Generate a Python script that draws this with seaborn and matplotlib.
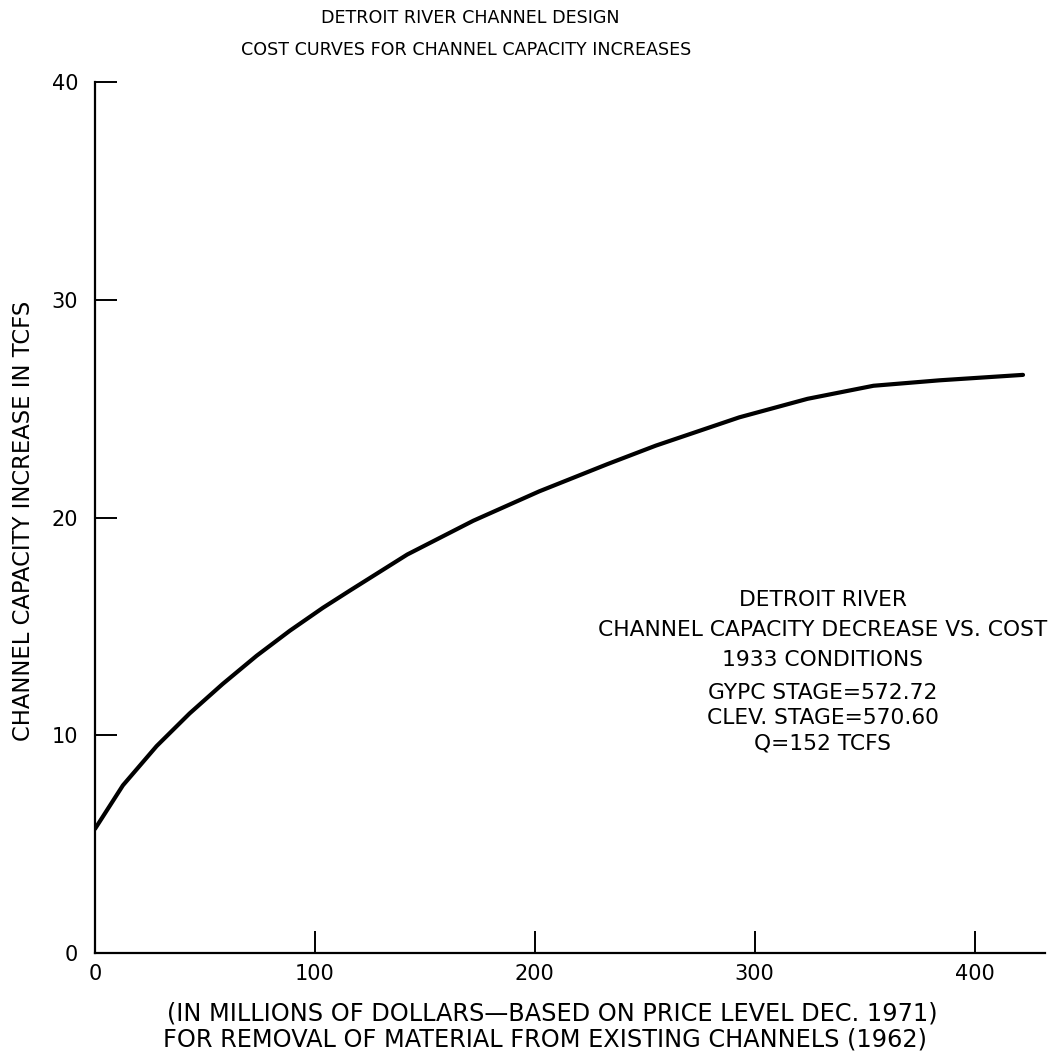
import matplotlib
matplotlib.use("Agg")
import matplotlib.pyplot as plt
import seaborn as sns
import pandas as pd

# Cost (millions of dollars) vs. channel capacity increase (TCFS)
cost = [0, 12.7, 28, 43, 58, 73.5, 88.6, 103.6, 116, 142, 172, 202,
        233, 255, 293, 324, 354, 384, 422]
capacity = [5.7, 7.7, 9.5, 11.0, 12.35, 13.65, 14.8, 15.85, 16.65, 18.3, 19.85, 21.2,
            22.45, 23.3, 24.6, 25.45, 26.05, 26.3, 26.55]

x_ticks = [0, 100, 200, 300, 400]
y_ticks = [0, 10, 20, 30, 40]

title_lines = ["DETROIT RIVER CHANNEL DESIGN",
               "COST CURVES FOR CHANNEL CAPACITY INCREASES"]
xlabel_lines = ["(IN MILLIONS OF DOLLARS\u2014BASED ON PRICE LEVEL DEC. 1971)",
                "FOR REMOVAL OF MATERIAL FROM EXISTING CHANNELS (1962)"]
ylabel = "CHANNEL CAPACITY INCREASE IN TCFS"
note_head = ["DETROIT RIVER", "CHANNEL CAPACITY DECREASE VS. COST", "1933 CONDITIONS"]
note_body = ["GYPC STAGE=572.72", "CLEV. STAGE=570.60", "Q=152 TCFS"]

df = pd.DataFrame({"cost": cost, "capacity": capacity})

sns.set_theme(style="white")
plt.rcParams["font.family"] = ["DejaVu Sans"]
plt.rcParams["text.color"] = "black"

W, H = 1056, 1054
fig = plt.figure(figsize=(W / 100, H / 100), dpi=100)
ax = fig.add_axes([95 / W, 1 - 953 / H, (1045 - 95) / W, (953 - 82) / H])

sns.lineplot(data=df, x="cost", y="capacity", ax=ax, color="black",
             linewidth=3.0, sort=False, estimator=None)

ax.set_xlim(0, 432)
ax.set_ylim(0, 40)
ax.set_xticks(x_ticks)
ax.set_yticks(y_ticks)
ax.tick_params(axis="both", direction="in", length=16, width=1.4,
               color="black", labelsize=15, labelcolor="black",
               bottom=True, left=True)
ax.tick_params(axis="x", pad=8)
ax.tick_params(axis="y", pad=12)
for side in ("top", "right"):
    ax.spines[side].set_visible(False)
for side in ("left", "bottom"):
    ax.spines[side].set_color("black")
    ax.spines[side].set_linewidth(1.6)
ax.set_xlabel("")
ax.set_ylabel("")

def fx(px):
    return px / W

def fy(py):
    return 1 - py / H

fig.text(fx(470), fy(18), title_lines[0], ha="center", va="center", fontsize=12.6)
fig.text(fx(466), fy(50), title_lines[1], ha="center", va="center", fontsize=12.6)

fig.text(fx(552), fy(1013), xlabel_lines[0], ha="center", va="center", fontsize=17.3)
fig.text(fx(545), fy(1040), xlabel_lines[1], ha="center", va="center", fontsize=17.3)

fig.text(fx(24), fy(521), ylabel, ha="center", va="center", rotation=90, fontsize=16.3)

for text, py in zip(note_head, [600, 630, 660]):
    fig.text(fx(823), fy(py), text, ha="center", va="center", fontsize=15.7)
for text, py in zip(note_body, [693, 718, 743]):
    fig.text(fx(823), fy(py), text, ha="center", va="center", fontsize=15.7)

fig.savefig("out.png", dpi=100, facecolor="white")
